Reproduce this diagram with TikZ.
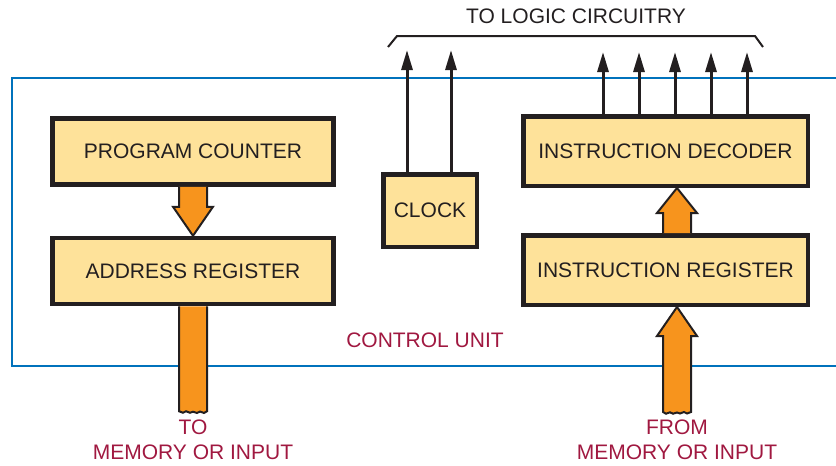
\documentclass[tikz,border=0pt]{standalone}
\usepackage{fontspec}
\setmainfont{Liberation Sans}
\usetikzlibrary{arrows.meta,positioning,calc}
\definecolor{cublue}{RGB}{0,114,188}
\definecolor{cuyellow}{RGB}{254,226,154}
\definecolor{cuorange}{RGB}{247,148,29}
\definecolor{cured}{RGB}{160,24,64}
\definecolor{cuink}{RGB}{35,31,32}

\begin{document}
\begin{tikzpicture}[x=1pt,y=-1pt,
  ubox/.style={draw=cuink,line width=4.5pt,fill=cuyellow,text=cuink,
    font=\fontsize{21}{25}\selectfont,inner sep=0pt},
  fat/.style={draw=cuink,line width=2pt,fill=cuorange,line join=miter},
  thin/.style={-{Triangle[length=20pt,width=11pt]},draw=cuink,line width=3pt},
  lbl/.style={font=\fontsize{21}{25}\selectfont,align=center,inner sep=0pt}
]
  \useasboundingbox (0,0) rectangle (836,466);

  % Control unit frame
  \draw[cublue,line width=2.5pt] (850,78) -- (12,78) -- (12,366) -- (850,366);
  \node[lbl,text=cured] (cu) at (425,340) {CONTROL UNIT};

  % Units
  \node[ubox,minimum width=281pt,minimum height=66pt] (pc) at (193,151.5) {PROGRAM COUNTER};
  \node[ubox,minimum width=281pt,minimum height=66pt] (ar) at (193,271) {ADDRESS REGISTER};
  \node[ubox,minimum width=93.5pt,minimum height=72.5pt] (clock) at (430,210.5) {CLOCK};
  \node[ubox,minimum width=284.5pt,minimum height=69.5pt] (dec) at (665.5,151) {INSTRUCTION DECODER};
  \node[ubox,minimum width=284.5pt,minimum height=69.5pt] (ir) at (665.5,270) {INSTRUCTION REGISTER};

  % Program counter to address register
  \draw[fat] ($(pc.south)+(-14,0)$) -- ($(pc.south)+(-14,20)$) -- ($(pc.south)+(-20,20)$)
    -- (ar.north) -- ($(pc.south)+(20,20)$) -- ($(pc.south)+(14,20)$) -- ($(pc.south)+(14,0)$);

  % Address register out to memory
  \coordinate (memout) at ($(ar.south)+(0,105)$);
  \draw[fat] ($(ar.south)+(-14,0)$) -- ($(memout)+(-14,0)$)
    -- ++(4,1.5) -- ++(3,-1.5) -- ++(4,1.5) -- ++(3,-1) -- ++(4,1.2) -- ++(3,-1.4)
    -- ++(4,1.4) -- ++(3,-1.7) -- ($(ar.south)+(14,0)$);
  \node[lbl,text=cured,anchor=north] (tomem) at ($(memout)+(0,8)$) {TO\\MEMORY OR INPUT};

  % Memory in to instruction register
  \coordinate (irin) at ($(ir.south)+(11.5,0)$);
  \coordinate (memin) at ($(irin)+(0,105)$);
  \draw[fat] ($(memin)+(-14,0)$) -- ($(irin)+(-14,29)$) -- ($(irin)+(-20,29)$) -- (irin)
    -- ($(irin)+(20,29)$) -- ($(irin)+(14,29)$) -- ($(memin)+(14,0)$)
    -- ++(-4,1.5) -- ++(-3,-1.5) -- ++(-4,1.5) -- ++(-3,-1) -- ++(-4,1.2) -- ++(-3,-1.4)
    -- ++(-4,1.4) -- ++(-3,-1.7) -- cycle;
  \node[lbl,text=cured,anchor=north] (frommem) at ($(memin)+(0,8)$) {FROM\\MEMORY OR INPUT};

  % Instruction register to decoder
  \coordinate (irout) at ($(ir.north)+(11.5,0)$);
  \coordinate (decin) at ($(dec.south)+(11.5,0)$);
  \draw[fat] ($(irout)+(-14,0)$) -- ($(decin)+(-14,25)$) -- ($(decin)+(-20,25)$) -- (decin)
    -- ($(decin)+(20,25)$) -- ($(decin)+(14,25)$) -- ($(irout)+(14,0)$);

  % Lines to logic circuitry
  \foreach \dx in {-23,21}
    \draw[thin] ($(clock.north)+(\dx,0)$) -- ++(0,-122);
  \foreach \dx in {-62.5,-26.5,9.5,45.5,81.5}
    \draw[thin] ($(dec.north)+(\dx,0)$) -- ++(0,-62);
  \draw[cuink,line width=2pt] (388,47) -- (397,36) -- (755,36) -- (763,47);
  \node[lbl,text=cuink] (logic) at (576,16) {TO LOGIC CIRCUITRY};
\end{tikzpicture}
\end{document}
